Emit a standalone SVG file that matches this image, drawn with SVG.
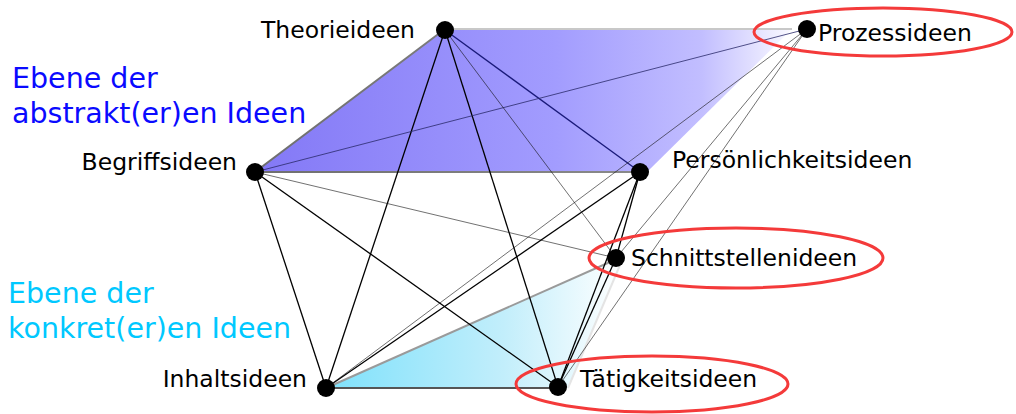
<svg xmlns="http://www.w3.org/2000/svg" width="1016" height="414" viewBox="0 0 1016 414">
  <style>
    text { font-family: "DejaVu Sans", "Liberation Sans", sans-serif; }
    .lbl { font-size: 23.5px; fill: #000; }
    .lvl { font-size: 28.5px; }
    .dot { fill: #000; }
    .thick { stroke: #000; stroke-width: 1.3; fill: none; }
    .thin { stroke: #111; stroke-width: 0.6; fill: none; }
    .hl { fill: none; stroke: #f43a3a; stroke-width: 3; }
  </style>
  <defs>
    <linearGradient id="upperFill" gradientUnits="userSpaceOnUse" x1="255" y1="0" x2="800" y2="0">
      <stop offset="0" stop-color="#8378f6"/>
      <stop offset="0.55" stop-color="#a29cfe"/>
      <stop offset="0.82" stop-color="#c2beff"/>
      <stop offset="1" stop-color="#ffffff"/>
    </linearGradient>
    <linearGradient id="upperEdge" gradientUnits="userSpaceOnUse" x1="255" y1="0" x2="800" y2="0">
      <stop offset="0" stop-color="#6e6e6e"/>
      <stop offset="0.7" stop-color="#8a8a8a"/>
      <stop offset="1" stop-color="#ffffff"/>
    </linearGradient>
    <linearGradient id="lowerFill" gradientUnits="userSpaceOnUse" x1="326" y1="0" x2="622" y2="0">
      <stop offset="0" stop-color="#7ee1fb"/>
      <stop offset="0.6" stop-color="#c2eefb"/>
      <stop offset="1" stop-color="#ffffff"/>
    </linearGradient>
  </defs>

  <!-- level planes -->
  <g id="upper-plane">
    <polygon points="445,29 792,29 648,171 255,172" fill="url(#upperFill)"/>
    <polyline points="792,29 445,29" fill="none" stroke="#c8c8c8" stroke-width="2"/>
    <polyline points="445,29 255,172 640,172" fill="none" stroke="url(#upperEdge)" stroke-width="2"/>
  </g>
  <g id="lower-plane">
    <polygon points="326,388 610,262 620,265 568,388" fill="url(#lowerFill)"/>
    <line x1="326" y1="388" x2="610" y2="262" stroke="#9a9a9a" stroke-width="2"/>
    <line x1="620" y1="265" x2="568" y2="388" stroke="#e4e4e4" stroke-width="2"/>
    <line x1="326" y1="388" x2="558" y2="388" stroke="#555" stroke-width="2"/>
  </g>

  <!-- connectors -->
  <g id="connectors">
    <line class="thick" x1="255" y1="172" x2="326" y2="388"/>
    <line class="thick" x1="255" y1="172" x2="558" y2="387"/>
    <line class="thick" x1="445" y1="30" x2="326" y2="388"/>
    <line class="thick" x1="445" y1="30" x2="558" y2="387"/>
    <line class="thick" x1="326" y1="388" x2="640" y2="172"/>
    <line class="thick" x1="558" y1="387" x2="640" y2="172"/>
    <line class="thick" x1="558" y1="387" x2="616" y2="258"/>
    <line class="thick" x1="640" y1="172" x2="616" y2="258"/>
    <line x1="445" y1="30" x2="640" y2="172" stroke="#1a1a7a" stroke-width="1.3"/>
    <line x1="255" y1="172" x2="807" y2="29" stroke="#2a2a6a" stroke-width="0.8"/>
    <line class="thin" x1="255" y1="172" x2="616" y2="258"/>
    <line class="thin" x1="445" y1="30" x2="616" y2="258"/>
    <line class="thin" x1="326" y1="388" x2="807" y2="29"/>
    <line class="thin" x1="558" y1="387" x2="807" y2="29"/>
    <line class="thin" x1="616" y1="258" x2="807" y2="29"/>
  </g>

  <!-- level captions -->
  <g id="level-abstract" fill="#0a0aff">
    <text class="lvl" x="12" y="88">Ebene der</text>
    <text class="lvl" x="12" y="123">abstrakt(er)en Ideen</text>
  </g>
  <g id="level-concrete" fill="#00c8ff">
    <text class="lvl" x="8" y="303">Ebene der</text>
    <text class="lvl" x="8" y="338">konkret(er)en Ideen</text>
  </g>

  <!-- nodes -->
  <g id="node-theorieideen">
    <circle class="dot" cx="445" cy="30" r="9"/>
    <text class="lbl" x="415" y="38" text-anchor="end">Theorieideen</text>
  </g>
  <g id="node-prozessideen">
    <ellipse class="hl" cx="883" cy="32" rx="129" ry="24"/>
    <circle class="dot" cx="807" cy="29" r="9"/>
    <text class="lbl" x="818" y="41">Prozessideen</text>
  </g>
  <g id="node-begriffsideen">
    <circle class="dot" cx="255" cy="172" r="9"/>
    <text class="lbl" x="237" y="170" text-anchor="end">Begriffsideen</text>
  </g>
  <g id="node-persoenlichkeitsideen">
    <circle class="dot" cx="640" cy="172" r="9"/>
    <text class="lbl" x="672" y="168">Persönlichkeitsideen</text>
  </g>
  <g id="node-schnittstellenideen">
    <ellipse class="hl" cx="736" cy="258" rx="147" ry="30"/>
    <circle class="dot" cx="616" cy="258" r="9"/>
    <text class="lbl" x="631" y="266">Schnittstellenideen</text>
  </g>
  <g id="node-inhaltsideen">
    <circle class="dot" cx="326" cy="388" r="9"/>
    <text class="lbl" x="307" y="387" text-anchor="end">Inhaltsideen</text>
  </g>
  <g id="node-taetigkeitsideen">
    <ellipse class="hl" cx="652" cy="384" rx="136" ry="28"/>
    <circle class="dot" cx="558" cy="387" r="9"/>
    <text class="lbl" x="580" y="387">Tätigkeitsideen</text>
  </g>
</svg>
